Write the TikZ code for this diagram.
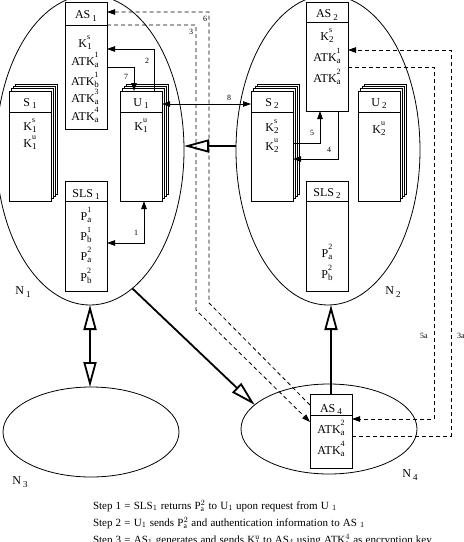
\documentclass[tikz,border=0pt]{standalone}
\usepackage{fontspec}
\setmainfont{Liberation Serif}
\usetikzlibrary{arrows.meta,shapes.geometric}
\newcommand\scr[1]{{\fontsize{8}{8}\selectfont #1}}
\newcommand\subscr[1]{{\fontsize{9}{9}\selectfont #1}}
\newcommand\supsub[3]{#1\rlap{\raisebox{7.5pt}{\scr{#2}}}\raisebox{-2pt}{\subscr{#3}}}
\newcommand\lowsub[2]{#1\,\raisebox{-2.5pt}{\subscr{#2}}}
\newcommand\widesp{\spaceskip=3.2pt\relax}
\newcommand\mkstack[5]{%
  \foreach \sh in {6.6,4.4,2.2}{\draw[sheet] (#2+\sh,#3-\sh) rectangle ++(#4,#5);}
  \node[box, minimum width=#4pt, minimum height=#5pt] (#1) at (#2,#3) {};}
\tikzset{
  every node/.style={font=\fontsize{12}{14}\selectfont, inner sep=0pt, outer sep=0pt},
  box/.style={draw, fill=white, line width=0.8pt, anchor=north west, inner sep=0pt},
  sheet/.style={draw, fill=white, line width=0.8pt},
  txt/.style={anchor=base},
  lbl/.style={font=\fontsize{8}{9}\selectfont},
  captext/.style={font=\fontsize{11}{13}\selectfont, anchor=base west},
  net/.style={draw, ellipse, line width=0.8pt, inner sep=0pt},
  conn/.style={line width=0.8pt, >={Triangle[length=8pt,width=5.5pt]}},
  dashline/.style={conn, dash pattern=on 4pt off 3pt},
  hollow/.style={line width=1.8pt, >={Triangle[open,length=25pt,width=13pt]}}
}
\begin{document}
\begin{tikzpicture}[x=1pt,y=-1pt]
\useasboundingbox (0,0) rectangle (464,542);
\clip (0,0) rectangle (464,542);

% networks
\node[net, minimum width=188pt, minimum height=310pt] (N1) at (90,150) {};
\node[net, minimum width=184pt, minimum height=310pt] (N2) at (328,150) {};
\node[net, minimum width=176pt, minimum height=90pt] (N3) at (91,432) {};
\node[net, minimum width=176pt, minimum height=90pt] (N4) at (329,429) {};

% boxes
\node[box, minimum width=42pt, minimum height=127pt] (AS1) at (65,2) {};
\node[box, minimum width=42pt, minimum height=110pt] (SLS1) at (65,181) {};
\mkstack{S1}{9}{91}{42}{110}
\mkstack{U1}{120}{91}{42}{110}
\node[box, minimum width=42pt, minimum height=109pt] (AS2) at (306,2) {};
\node[box, minimum width=42pt, minimum height=110pt] (SLS2) at (306,181) {};
\mkstack{S2}{251}{91}{42}{110}
\mkstack{U2}{358}{91}{42}{110}
\node[box, minimum width=42pt, minimum height=74pt] (AS4) at (310,394) {};

% header separators
\draw[conn] (AS1.west |- 0,25) -- (AS1.east |- 0,25);
\draw[conn] (SLS1.west |- 0,201) -- (SLS1.east |- 0,201);
\draw[conn] (S1.west |- 0,112) -- (S1.east |- 0,112);
\draw[conn] (U1.west |- 0,112) -- (U1.east |- 0,112);
\draw[conn] (AS2.west |- 0,22) -- (AS2.east |- 0,22);
\draw[conn] (SLS2.west |- 0,201) -- (SLS2.east |- 0,201);
\draw[conn] (S2.west |- 0,112) -- (S2.east |- 0,112);
\draw[conn] (U2.west |- 0,112) -- (U2.east |- 0,112);
\draw[conn] (AS4.west |- 0,415) -- (AS4.east |- 0,415);

% box texts
\node[txt] (AS1h) at (86,18.5) {\lowsub{AS}{1}};
\node[txt] (AS1a) at (85,47) {\supsub{K}{s}{1}};
\node[txt] (AS1b) at (85,65) {\supsub{ATK}{1}{a}};
\node[txt] (AS1c) at (85,85) {\supsub{ATK}{1}{b}};
\node[txt] (AS1d) at (85,102) {\supsub{ATK}{3}{a}};
\node[txt] (AS1e) at (85,120) {\supsub{ATK}{4}{a}};
\node[txt] (S1h) at (30,106) {\lowsub{S}{1}};
\node[txt] (S1a) at (30,130) {\supsub{K}{s}{1}};
\node[txt] (S1b) at (30,147) {\supsub{K}{u}{1}};
\node[txt] (U1h) at (141,106) {\lowsub{U}{1}};
\node[txt] (U1a) at (141,130) {\supsub{K}{u}{1}};
\node[txt] (SLS1h) at (86,197) {\lowsub{SLS}{1}};
\node[txt] (SLS1a) at (86,220) {\supsub{P}{1}{a}};
\node[txt] (SLS1b) at (86,240) {\supsub{P}{1}{b}};
\node[txt] (SLS1c) at (86,260) {\supsub{P}{2}{a}};
\node[txt] (SLS1d) at (86,281) {\supsub{P}{2}{b}};
\node[txt] (AS2h) at (327,17.5) {\lowsub{AS}{2}};
\node[txt] (AS2a) at (327,40) {\supsub{K}{s}{2}};
\node[txt] (AS2b) at (327,61) {\supsub{ATK}{1}{a}};
\node[txt] (AS2c) at (327,82) {\supsub{ATK}{2}{a}};
\node[txt] (S2h) at (272,106) {\lowsub{S}{2}};
\node[txt] (S2a) at (272,131) {\supsub{K}{s}{2}};
\node[txt] (S2b) at (272,150) {\supsub{K}{u}{2}};
\node[txt] (U2h) at (379,106) {\lowsub{U}{2}};
\node[txt] (U2a) at (379,133) {\supsub{K}{u}{2}};
\node[txt] (SLS2h) at (327,196) {\lowsub{SLS}{2}};
\node[txt] (SLS2a) at (327,257) {\supsub{P}{2}{a}};
\node[txt] (SLS2b) at (327,278) {\supsub{P}{2}{b}};
\node[txt] (AS4h) at (331,412) {\lowsub{AS}{4}};
\node[txt] (AS4a) at (331,433) {\supsub{ATK}{2}{a}};
\node[txt] (AS4b) at (331,454) {\supsub{ATK}{4}{a}};

% dashed connectors
\draw[dashline,->] (AS1.east |- 0,25) -- (196,25) -- (196,310) -- (AS4.west |- 0,422);
\draw[dashline,->] (AS4.west |- 0,405) -- (209,303) -- (209,12) -- (AS1.east |- 0,12);
\draw[dashline,->] (AS4.east |- 0,436) -- (451,436) -- (451,50) -- (AS2.east |- 0,50);
\draw[dashline,->] (AS2.east |- 0,67) -- (434,67) -- (434,419) -- (AS4.east |- 0,419);

% solid connectors
\draw[conn,<->] (SLS1.east |- 0,243) -| (U1.south -| 144,0);
\draw[conn,->] (U1.north -| 154,0) |- (AS1.east |- 0,49);
\draw[conn,->] (AS1.east |- 0,67) -| (U1.north -| 134,0);
\draw[conn,<->] (U1.east |- 0,104) -- (S2.west |- 0,104);
\draw[conn,->] (AS2.south -| 338,0) |- (S2.east |- 0,159);
\draw[conn,->] (S2.east |- 0,143) -| (AS2.south -| 320,0);

% network arrows
\draw[hollow,->] (N2.west |- 0,146) -- (N1.east |- 0,146);
\draw[hollow,<->] (N1.south) -- (N1.south |- N3.north);
\draw[hollow,->] (N1.-73) -- (N4.162);
\draw[hollow,->] (AS4.north) -- (AS4.north |- N2.south);

% labels
\node[lbl] (l1) at (136,233) {1};
\node[lbl] (l2) at (147,61) {2};
\node[lbl] (l7) at (126,77) {7};
\node[lbl] (l8) at (229,98) {8};
\node[lbl] (l4) at (329,150) {4};
\node[lbl] (l5) at (312,133) {5};
\node[lbl] (l6) at (205,19) {6};
\node[lbl] (l3) at (191,32) {3};
\node[lbl] (l5a) at (424,336) {5a};
\node[lbl] (l3a) at (461,336) {3a};
\node (n1) at (23,292) {\lowsub{N}{1}};
\node (n2) at (393,292) {\lowsub{N}{2}};
\node (n3) at (20,482) {\lowsub{N}{3}};
\node (n4) at (410,475) {\lowsub{N}{4}};

% caption
\node[captext] (st1) at (93,509) {\widesp Step 1 = SLS$_1$ returns P$^2_{\mathrm{a}}$ to U$_1$ upon request from U $_1$};
\node[captext] (st2) at (93,526) {\widesp Step 2 = U$_1$ sends P$^2_{\mathrm{a}}$ and authentication information to AS $_1$};
\node[captext] (st3) at (93,543) {\widesp Step 3 = AS$_1$ generates and sends K$^{\mathrm{u}}_1$ to AS$_4$ using ATK$^4_{\mathrm{a}}$ as encryption key};
\end{tikzpicture}
\end{document}
